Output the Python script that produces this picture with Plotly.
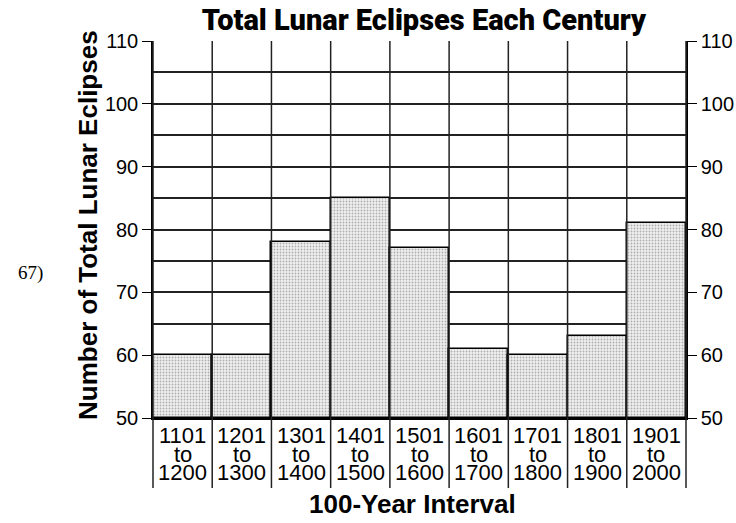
import plotly.graph_objects as go

start_years = ["1101", "1201", "1301", "1401", "1501", "1601", "1701", "1801", "1901"]
end_years = ["1200", "1300", "1400", "1500", "1600", "1700", "1800", "1900", "2000"]
eclipses = [60, 60, 78, 85, 77, 61, 60, 63, 81]
y_ticks = [50, 60, 70, 80, 90, 100, 110]

n = len(start_years)
xs = list(range(n))
base = 50

PLOT_H = 377.0  # plot height in px (used for placing text below the axis)

def py(px_below):
    return -px_below / PLOT_H

fig = go.Figure()
fig.add_trace(go.Bar(
    x=xs, y=[v - base for v in eclipses], base=base, width=1.0,
    marker=dict(color="#ececec",
                line=dict(color="black", width=1.5),
                pattern=dict(shape=".", fgcolor="#707070", bgcolor="#efefef",
                             size=3, solidity=0.3)),
    showlegend=False, hoverinfo="skip"))
fig.add_trace(go.Scatter(x=[0], y=[base], yaxis="y2", mode="markers",
                         marker=dict(opacity=0), showlegend=False, hoverinfo="skip"))

shapes = []
for k in range(n + 1):
    shapes.append(dict(type="line", xref="x domain", yref="paper",
                       x0=k / n, x1=k / n, y0=py(70), y1=1,
                       line=dict(color="#222", width=1.5), layer="above"))

lab_font = dict(family="Liberation Sans, Arial, sans-serif", size=22, color="black")
annotations = []
for i in xs:
    for txt, off in ((start_years[i], 17), ("to", 36.5), (end_years[i], 54)):
        annotations.append(dict(text=txt, x=i, xref="x", y=py(off), yref="paper",
                                xanchor="center", yanchor="middle", showarrow=False,
                                font=lab_font))

title_font = dict(family="Liberation Sans, Arial, sans-serif", size=26, color="black")
annotations.append(dict(text="<b>100-Year Interval</b>", x=0.486, xref="paper",
                        y=py(86), yref="paper", xanchor="center", yanchor="middle",
                        showarrow=False, font=title_font))
annotations.append(dict(text="<b>Number of Total Lunar Eclipses</b>", x=-0.122, xref="paper",
                        y=0.512, yref="paper", xanchor="center", yanchor="middle",
                        textangle=-90, showarrow=False, font=title_font))
annotations.append(dict(text="67)", xref="paper", yref="paper", x=-0.2026, y=0.385,
                        xanchor="right", yanchor="middle", showarrow=False,
                        font=dict(family="Liberation Serif, Times New Roman, serif",
                                  size=19, color="black")))

axis_font = dict(family="Liberation Sans, Arial, sans-serif", size=20, color="black")
fig.update_layout(
    width=736, height=523,
    margin=dict(l=153, r=50, t=41, b=105, autoexpand=False),
    paper_bgcolor="white", plot_bgcolor="white",
    bargap=0,
    title=dict(text="Total Lunar Eclipses Each Century",
               font=dict(family="Roboto, sans-serif",
                         size=29, color="black", weight=900),
               x=0.576, xanchor="center", y=0.963, yanchor="middle"),
    xaxis=dict(range=[-0.5, n - 0.5], showticklabels=False,
               showgrid=False, ticks="", showline=True, linecolor="black", linewidth=1.5,
               zeroline=False, fixedrange=True, automargin=False),
    yaxis=dict(range=[50, 110], tickvals=y_ticks, ticks="outside", ticklen=9,
               tickcolor="black", tickwidth=1.2,
               showgrid=True, gridcolor="#222", gridwidth=1.5,
               minor=dict(dtick=5, showgrid=True, gridcolor="#222", gridwidth=1.5, ticks=""),
               showline=True, linecolor="black", linewidth=1.5,
               tickfont=axis_font, zeroline=False, automargin=False),
    yaxis2=dict(range=[50, 110], tickvals=y_ticks, overlaying="y", side="right",
                ticks="outside", ticklen=9, tickcolor="black", tickwidth=1.2,
                showgrid=False, showline=True, linecolor="black", linewidth=1.5,
                tickfont=axis_font, zeroline=False, automargin=False),
    shapes=shapes,
    annotations=annotations,
)

fig.write_html("out.html", config={"displayModeBar": False},
               post_script="document.body.style.margin='0';document.body.style.padding='0';")
